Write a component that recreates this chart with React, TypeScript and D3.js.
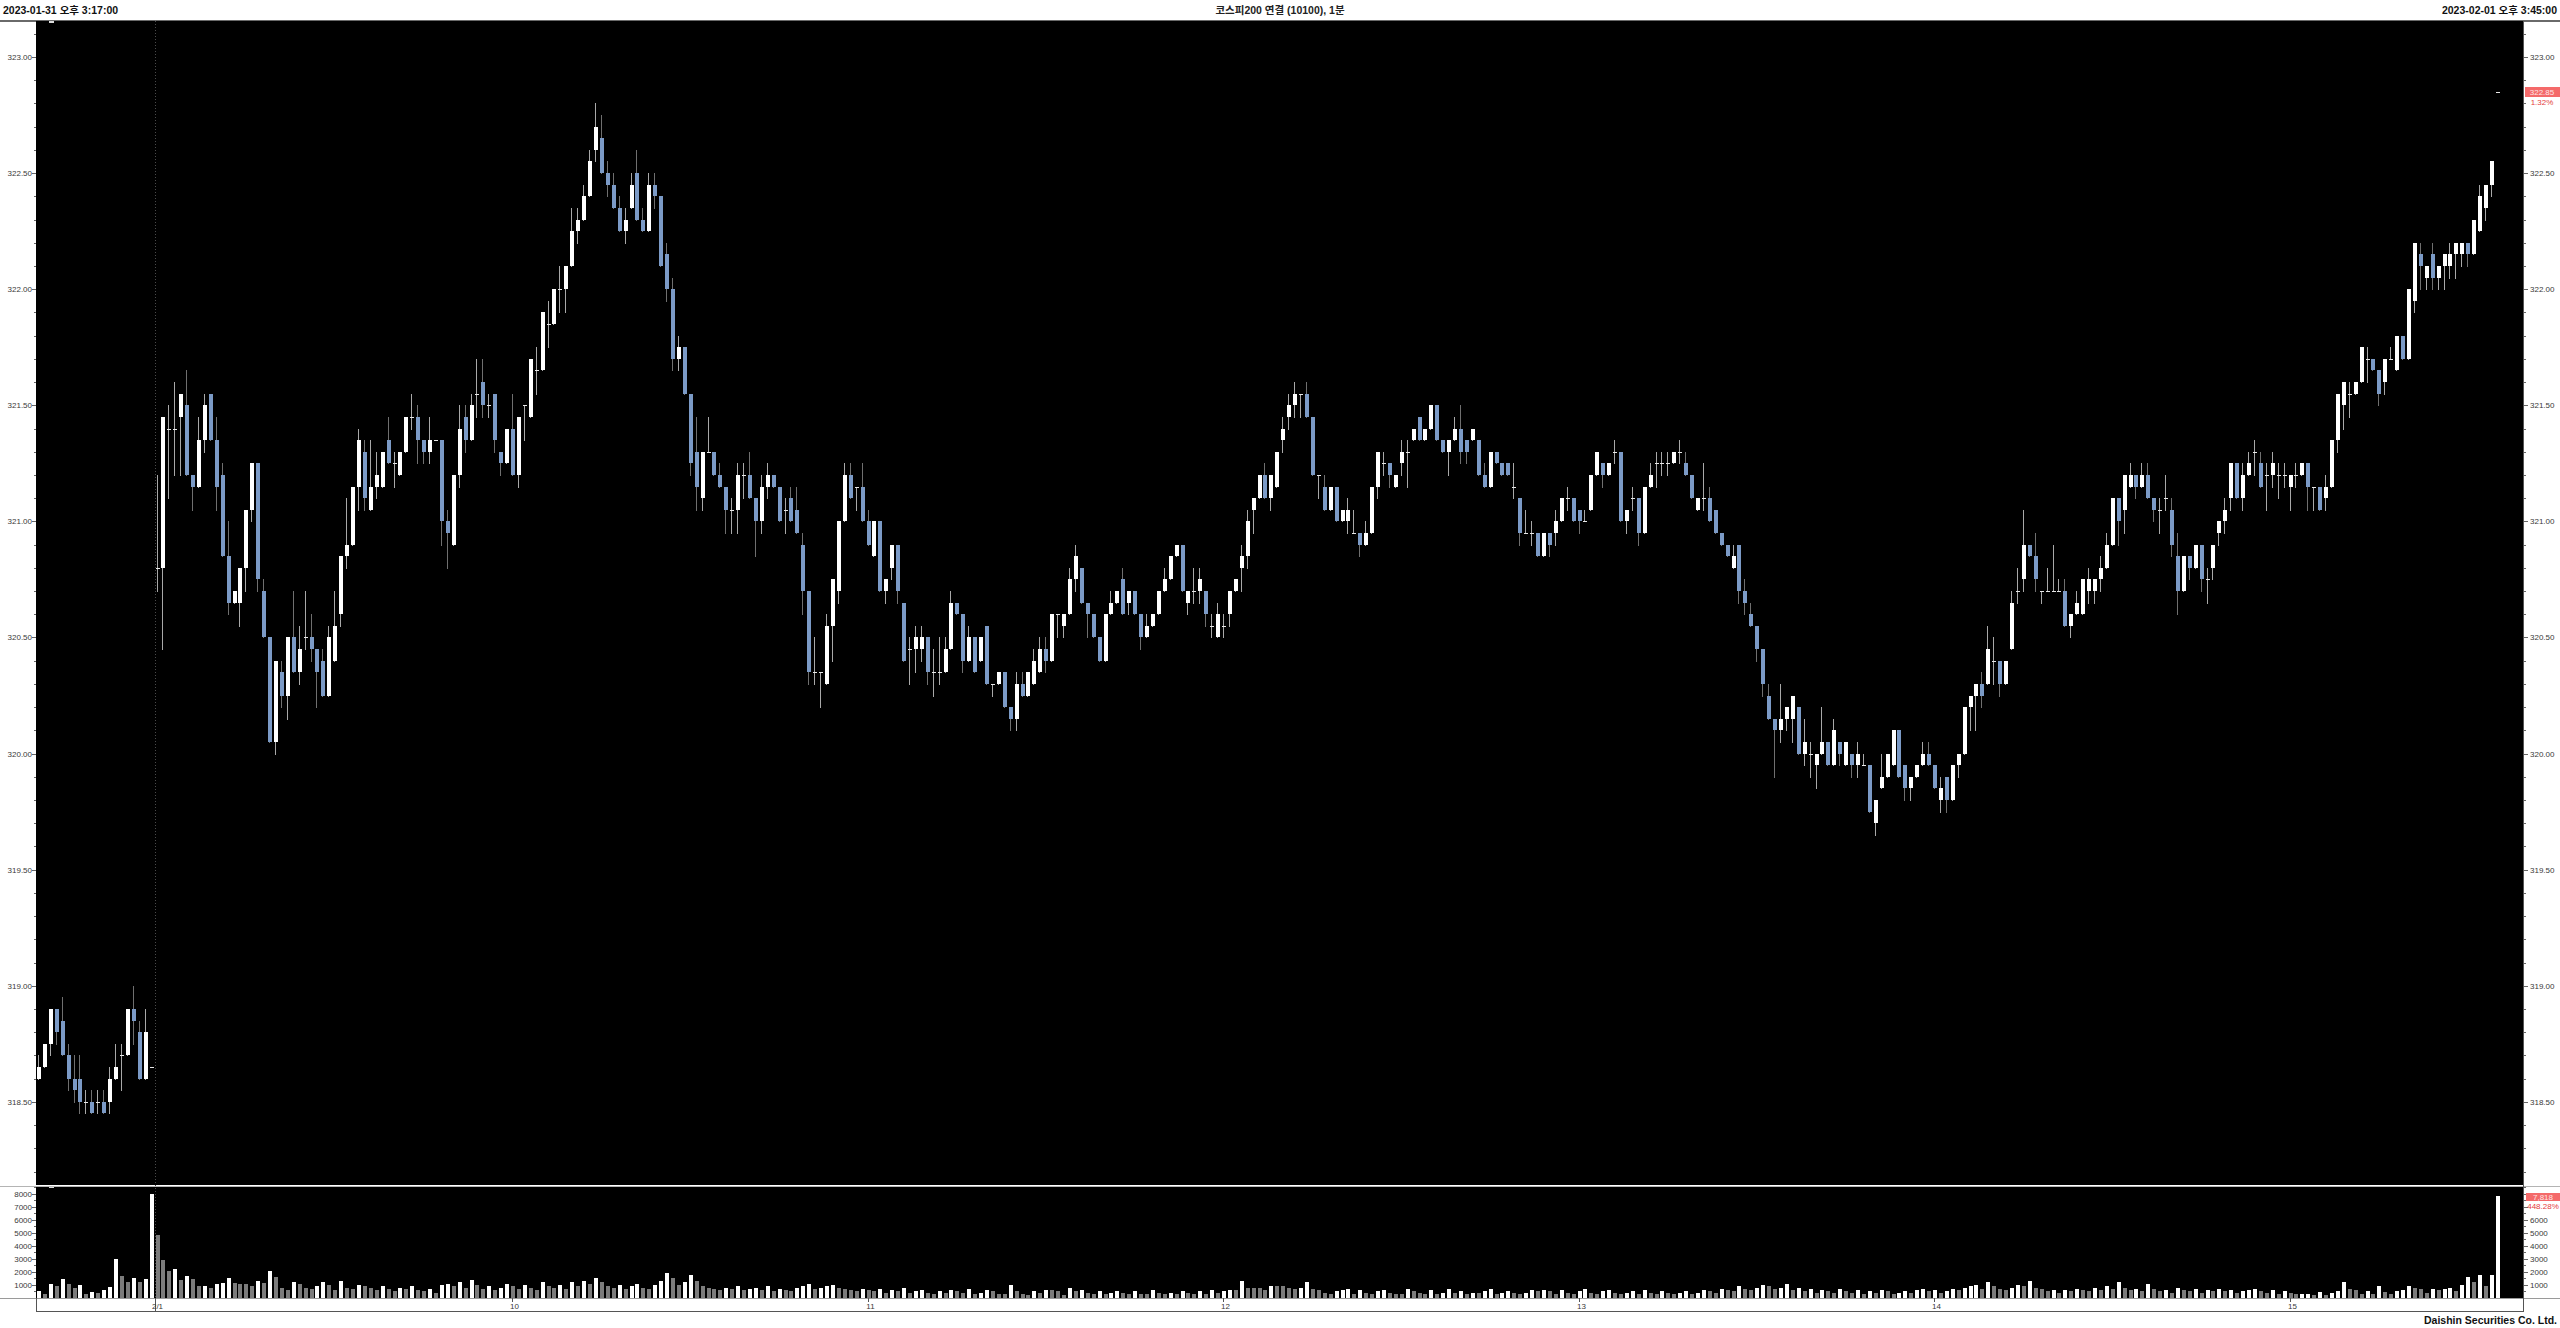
import React from 'react';
import * as d3 from 'd3';

const headerLeft = '2023-01-31 오후 3:17:00';
const headerTitle = '코스피200 연결 (10100), 1분';
const headerRight = '2023-02-01 오후 3:45:00';
const footerText = 'Daishin Securities Co. Ltd.';

const timeLabels = ['2/1', '10', '11', '12', '13', '14', '15'];
const timeLabelBars = [20, 80, 140, 200, 260, 320, 380];

const priceTicks = [318.5, 319, 319.5, 320, 320.5, 321, 321.5, 322, 322.5, 323];
const volumeTicks = [1000, 2000, 3000, 4000, 5000, 6000, 7000, 8000];
const rightVolumeTicks = [1000, 2000, 3000, 4000, 5000, 6000];

const lastPriceLabel = '322.85';
const lastPriceChange = '1.32%';
const lastVolumeLabel = '7,818';
const lastVolumeChange = '448.28%';

// [open, high, low, close]
const bars0131 = [
  [318.60, 318.70, 318.60, 318.65], [318.65, 318.75, 318.65, 318.75], [318.75, 318.90, 318.70, 318.90],
  [318.90, 318.90, 318.75, 318.80], [318.85, 318.95, 318.70, 318.70], [318.70, 318.75, 318.55, 318.60],
  [318.60, 318.70, 318.50, 318.55], [318.60, 318.70, 318.45, 318.50], [318.50, 318.55, 318.45, 318.50],
  [318.50, 318.55, 318.45, 318.45], [318.50, 318.55, 318.45, 318.50], [318.50, 318.55, 318.45, 318.45],
  [318.50, 318.65, 318.45, 318.60], [318.60, 318.75, 318.60, 318.65], [318.70, 318.75, 318.55, 318.70],
  [318.70, 318.90, 318.70, 318.90], [318.90, 319.00, 318.75, 318.85], [318.80, 318.85, 318.60, 318.60],
  [318.60, 318.90, 318.60, 318.80], [318.65, 318.65, 318.65, 318.65],
];
const bars09 = [
  [320.80, 321.20, 320.70, 320.80], [320.80, 321.45, 320.45, 321.45], [321.40, 321.50, 321.10, 321.40],
  [321.40, 321.60, 321.20, 321.40], [321.45, 321.55, 321.20, 321.55], [321.50, 321.65, 321.20, 321.20],
  [321.20, 321.20, 321.05, 321.15], [321.15, 321.45, 321.15, 321.35], [321.35, 321.55, 321.30, 321.50],
  [321.55, 321.55, 321.35, 321.35], [321.35, 321.45, 321.05, 321.15], [321.20, 321.25, 320.85, 320.85],
  [320.85, 321.00, 320.60, 320.65], [320.65, 320.70, 320.65, 320.70], [320.65, 320.80, 320.55, 320.80],
  [320.80, 321.05, 320.70, 321.05], [321.05, 321.25, 321.00, 321.25], [321.25, 321.25, 320.70, 320.75],
  [320.70, 320.75, 320.50, 320.50], [320.50, 320.50, 320.05, 320.05], [320.05, 320.40, 320.00, 320.40],
  [320.35, 320.40, 320.20, 320.25], [320.25, 320.50, 320.15, 320.50], [320.50, 320.70, 320.35, 320.35],
  [320.35, 320.55, 320.30, 320.45], [320.50, 320.70, 320.45, 320.50], [320.50, 320.60, 320.40, 320.45],
  [320.45, 320.45, 320.20, 320.35], [320.40, 320.45, 320.25, 320.25], [320.25, 320.55, 320.25, 320.50],
  [320.40, 320.70, 320.40, 320.55], [320.60, 320.85, 320.55, 320.85], [320.85, 321.10, 320.80, 320.90],
  [320.90, 321.15, 320.90, 321.15], [321.15, 321.40, 321.05, 321.35], [321.30, 321.35, 321.05, 321.10],
  [321.05, 321.35, 321.05, 321.15], [321.15, 321.30, 321.10, 321.20], [321.15, 321.30, 321.15, 321.30],
  [321.35, 321.45, 321.25, 321.25], [321.25, 321.30, 321.15, 321.25], [321.20, 321.30, 321.20, 321.30],
  [321.30, 321.45, 321.30, 321.45], [321.45, 321.55, 321.40, 321.45], [321.45, 321.50, 321.25, 321.35],
  [321.35, 321.35, 321.25, 321.30], [321.30, 321.45, 321.25, 321.35], [321.35, 321.35, 321.35, 321.35],
  [321.35, 321.35, 320.90, 321.00], [321.00, 321.05, 320.80, 320.95], [320.90, 321.20, 320.90, 321.20],
  [321.20, 321.50, 321.15, 321.40], [321.45, 321.50, 321.30, 321.35], [321.35, 321.55, 321.35, 321.50],
  [321.55, 321.70, 321.45, 321.55], [321.60, 321.70, 321.45, 321.50], [321.50, 321.55, 321.45, 321.50],
  [321.55, 321.55, 321.30, 321.35], [321.30, 321.30, 321.20, 321.25], [321.25, 321.40, 321.25, 321.40],
];
const bars10 = [
  [321.40, 321.55, 321.20, 321.20], [321.20, 321.45, 321.15, 321.45], [321.50, 321.50, 321.35, 321.50],
  [321.45, 321.70, 321.45, 321.70], [321.65, 321.75, 321.55, 321.65], [321.65, 321.90, 321.65, 321.90],
  [321.85, 321.95, 321.75, 321.85], [321.85, 322.00, 321.85, 322.00], [322.00, 322.10, 321.90, 322.00],
  [322.00, 322.10, 321.90, 322.10], [322.10, 322.35, 322.10, 322.25], [322.25, 322.35, 322.20, 322.30],
  [322.30, 322.45, 322.30, 322.40], [322.40, 322.60, 322.40, 322.55], [322.60, 322.80, 322.55, 322.70],
  [322.65, 322.75, 322.50, 322.50], [322.50, 322.55, 322.40, 322.45], [322.45, 322.50, 322.35, 322.35],
  [322.35, 322.40, 322.25, 322.25], [322.25, 322.35, 322.20, 322.30], [322.35, 322.50, 322.35, 322.45],
  [322.50, 322.60, 322.30, 322.30], [322.30, 322.35, 322.25, 322.25], [322.25, 322.50, 322.25, 322.45],
  [322.45, 322.50, 322.35, 322.40], [322.40, 322.40, 322.10, 322.10], [322.15, 322.20, 321.95, 322.00],
  [322.00, 322.05, 321.65, 321.70], [321.70, 321.80, 321.65, 321.75], [321.75, 321.75, 321.55, 321.55],
  [321.55, 321.55, 321.20, 321.25], [321.30, 321.45, 321.05, 321.15], [321.10, 321.30, 321.05, 321.30],
  [321.30, 321.45, 321.30, 321.30], [321.30, 321.30, 321.20, 321.20], [321.20, 321.25, 321.15, 321.15],
  [321.15, 321.15, 320.95, 321.05], [321.05, 321.10, 320.95, 321.05], [321.05, 321.25, 320.95, 321.20],
  [321.20, 321.25, 321.10, 321.20], [321.20, 321.30, 321.10, 321.10], [321.10, 321.10, 320.85, 321.00],
  [321.00, 321.20, 320.95, 321.15], [321.15, 321.25, 321.10, 321.20], [321.20, 321.20, 321.15, 321.15],
  [321.15, 321.15, 321.00, 321.00], [321.05, 321.10, 320.95, 321.05], [321.10, 321.15, 321.00, 321.00],
  [321.05, 321.15, 320.95, 320.95], [320.90, 320.95, 320.60, 320.70], [320.70, 320.70, 320.30, 320.35],
  [320.35, 320.50, 320.30, 320.35], [320.35, 320.35, 320.20, 320.35], [320.30, 320.60, 320.30, 320.55],
  [320.55, 320.75, 320.40, 320.75], [320.70, 321.00, 320.65, 321.00], [321.00, 321.25, 321.00, 321.20],
  [321.20, 321.25, 321.10, 321.10], [321.15, 321.15, 321.05, 321.15], [321.15, 321.25, 321.00, 321.00],
];
const bars11 = [
  [321.00, 321.05, 320.90, 320.90], [320.85, 321.00, 320.85, 321.00], [321.00, 321.00, 320.70, 320.70],
  [320.70, 320.75, 320.65, 320.75], [320.80, 320.90, 320.75, 320.90], [320.90, 320.90, 320.65, 320.70],
  [320.65, 320.65, 320.40, 320.40], [320.45, 320.50, 320.30, 320.45], [320.45, 320.55, 320.35, 320.50],
  [320.45, 320.55, 320.40, 320.50], [320.50, 320.50, 320.30, 320.35], [320.35, 320.45, 320.25, 320.35],
  [320.35, 320.50, 320.30, 320.35], [320.35, 320.50, 320.35, 320.45], [320.45, 320.70, 320.45, 320.65],
  [320.65, 320.65, 320.60, 320.60], [320.60, 320.60, 320.35, 320.40], [320.40, 320.55, 320.40, 320.50],
  [320.50, 320.50, 320.35, 320.35], [320.40, 320.50, 320.40, 320.50], [320.55, 320.55, 320.30, 320.30],
  [320.30, 320.30, 320.25, 320.30], [320.30, 320.35, 320.30, 320.35], [320.35, 320.35, 320.20, 320.20],
  [320.20, 320.20, 320.10, 320.15], [320.15, 320.35, 320.10, 320.30], [320.30, 320.35, 320.25, 320.25],
  [320.25, 320.35, 320.25, 320.35], [320.30, 320.45, 320.30, 320.40], [320.35, 320.50, 320.35, 320.45],
  [320.45, 320.50, 320.35, 320.40], [320.40, 320.60, 320.40, 320.60], [320.60, 320.60, 320.50, 320.60],
  [320.55, 320.60, 320.50, 320.60], [320.60, 320.80, 320.60, 320.75], [320.75, 320.90, 320.70, 320.85],
  [320.80, 320.80, 320.65, 320.65], [320.65, 320.65, 320.50, 320.60], [320.60, 320.60, 320.50, 320.50],
  [320.50, 320.50, 320.40, 320.40], [320.40, 320.60, 320.40, 320.60], [320.60, 320.70, 320.60, 320.65],
  [320.65, 320.70, 320.65, 320.70], [320.75, 320.80, 320.60, 320.60], [320.65, 320.70, 320.60, 320.70],
  [320.70, 320.70, 320.60, 320.60], [320.60, 320.60, 320.45, 320.50], [320.50, 320.60, 320.50, 320.55],
  [320.55, 320.60, 320.55, 320.60], [320.60, 320.70, 320.60, 320.70], [320.70, 320.80, 320.70, 320.75],
  [320.75, 320.85, 320.75, 320.85], [320.85, 320.90, 320.85, 320.90], [320.90, 320.90, 320.70, 320.70],
  [320.65, 320.70, 320.60, 320.70], [320.70, 320.80, 320.65, 320.70], [320.70, 320.80, 320.65, 320.75],
  [320.70, 320.70, 320.55, 320.60], [320.55, 320.60, 320.50, 320.55], [320.50, 320.65, 320.50, 320.60],
];
const bars12 = [
  [320.55, 320.60, 320.50, 320.55], [320.60, 320.70, 320.55, 320.70], [320.70, 320.75, 320.70, 320.75],
  [320.80, 320.90, 320.70, 320.85], [320.85, 321.05, 320.80, 321.00], [321.05, 321.10, 320.95, 321.10],
  [321.10, 321.20, 321.10, 321.20], [321.20, 321.25, 321.10, 321.10], [321.10, 321.20, 321.05, 321.20],
  [321.15, 321.30, 321.15, 321.30], [321.35, 321.45, 321.30, 321.40], [321.45, 321.55, 321.40, 321.50],
  [321.50, 321.60, 321.45, 321.55], [321.55, 321.55, 321.45, 321.55], [321.55, 321.60, 321.45, 321.45],
  [321.45, 321.45, 321.20, 321.20], [321.20, 321.20, 321.10, 321.20], [321.15, 321.20, 321.05, 321.05],
  [321.05, 321.15, 321.05, 321.15], [321.15, 321.15, 321.00, 321.00], [321.00, 321.05, 321.00, 321.05],
  [321.00, 321.10, 320.95, 321.05], [320.95, 321.05, 320.95, 320.95], [320.95, 320.95, 320.85, 320.90],
  [320.90, 321.00, 320.90, 320.95], [320.95, 321.15, 320.95, 321.15], [321.15, 321.30, 321.10, 321.30],
  [321.25, 321.30, 321.20, 321.25], [321.25, 321.25, 321.15, 321.20], [321.15, 321.20, 321.15, 321.20],
  [321.25, 321.35, 321.20, 321.30], [321.30, 321.35, 321.15, 321.30], [321.35, 321.40, 321.35, 321.40],
  [321.45, 321.45, 321.35, 321.35], [321.35, 321.40, 321.35, 321.40], [321.40, 321.50, 321.40, 321.50],
  [321.50, 321.50, 321.35, 321.35], [321.35, 321.35, 321.30, 321.30], [321.30, 321.35, 321.20, 321.35],
  [321.35, 321.45, 321.35, 321.40], [321.40, 321.50, 321.25, 321.30], [321.35, 321.35, 321.25, 321.30],
  [321.35, 321.40, 321.35, 321.40], [321.35, 321.35, 321.20, 321.20], [321.20, 321.25, 321.15, 321.15],
  [321.15, 321.30, 321.15, 321.30], [321.30, 321.30, 321.25, 321.25], [321.25, 321.25, 321.20, 321.20],
  [321.25, 321.25, 321.20, 321.20], [321.15, 321.25, 321.10, 321.15], [321.10, 321.10, 320.90, 320.95],
  [320.95, 321.05, 320.95, 320.95], [320.95, 321.00, 320.90, 320.95], [320.95, 320.95, 320.85, 320.85],
  [320.85, 320.95, 320.85, 320.95], [320.95, 320.95, 320.85, 320.90], [320.95, 321.05, 320.90, 321.00],
  [321.00, 321.10, 321.00, 321.10], [321.10, 321.15, 321.05, 321.10], [321.10, 321.10, 321.00, 321.00],
];
const bars13 = [
  [321.05, 321.05, 320.95, 321.00], [321.00, 321.05, 321.00, 321.00], [321.05, 321.20, 321.05, 321.20],
  [321.20, 321.30, 321.20, 321.30], [321.25, 321.25, 321.15, 321.20], [321.20, 321.25, 321.20, 321.25],
  [321.30, 321.35, 321.25, 321.30], [321.30, 321.30, 321.00, 321.00], [321.00, 321.05, 320.95, 321.05],
  [321.10, 321.15, 321.05, 321.10], [321.10, 321.10, 320.90, 320.95], [320.95, 321.15, 320.95, 321.15],
  [321.15, 321.25, 321.15, 321.20], [321.25, 321.30, 321.15, 321.25], [321.25, 321.30, 321.20, 321.25],
  [321.25, 321.30, 321.20, 321.25], [321.25, 321.30, 321.25, 321.30], [321.30, 321.35, 321.25, 321.30],
  [321.25, 321.30, 321.20, 321.20], [321.20, 321.20, 321.10, 321.10], [321.05, 321.10, 321.05, 321.10],
  [321.10, 321.25, 321.05, 321.10], [321.10, 321.15, 321.00, 321.00], [321.05, 321.05, 320.95, 320.95],
  [320.95, 320.95, 320.90, 320.90], [320.90, 320.90, 320.85, 320.85], [320.80, 320.90, 320.80, 320.85],
  [320.90, 320.90, 320.65, 320.70], [320.70, 320.75, 320.60, 320.65], [320.60, 320.65, 320.55, 320.55],
  [320.55, 320.55, 320.40, 320.45], [320.45, 320.45, 320.25, 320.30], [320.25, 320.30, 320.15, 320.15],
  [320.15, 320.15, 319.90, 320.10], [320.10, 320.30, 320.05, 320.15], [320.15, 320.20, 320.10, 320.20],
  [320.15, 320.25, 320.05, 320.25], [320.20, 320.20, 320.00, 320.00], [320.00, 320.15, 319.95, 320.05],
  [320.00, 320.05, 319.90, 320.00], [319.95, 320.00, 319.85, 320.00], [320.00, 320.20, 320.00, 320.05],
  [320.05, 320.05, 319.95, 319.95], [319.95, 320.15, 319.95, 320.10], [320.05, 320.05, 319.95, 320.00],
  [319.95, 320.05, 319.95, 320.05], [320.00, 320.00, 319.90, 319.95], [319.95, 320.05, 319.90, 320.00],
  [319.95, 320.00, 319.95, 319.95], [319.95, 319.95, 319.75, 319.75], [319.70, 319.80, 319.65, 319.80],
  [319.85, 320.00, 319.85, 319.90], [319.90, 320.00, 319.90, 320.00], [319.95, 320.10, 319.95, 320.10],
  [320.10, 320.10, 319.90, 319.90], [319.95, 319.95, 319.80, 319.85], [319.85, 319.90, 319.80, 319.90],
  [319.90, 319.95, 319.90, 319.95], [319.95, 320.05, 319.95, 320.00], [320.00, 320.05, 319.95, 319.95],
];
const bars14 = [
  [319.95, 319.95, 319.85, 319.85], [319.80, 319.90, 319.75, 319.85], [319.90, 319.90, 319.75, 319.80],
  [319.80, 319.95, 319.80, 319.95], [319.95, 320.00, 319.90, 320.00], [320.00, 320.20, 320.00, 320.20],
  [320.20, 320.25, 320.10, 320.25], [320.25, 320.30, 320.10, 320.30], [320.30, 320.35, 320.20, 320.25],
  [320.30, 320.55, 320.30, 320.45], [320.40, 320.50, 320.30, 320.40], [320.40, 320.40, 320.25, 320.30],
  [320.30, 320.40, 320.30, 320.40], [320.45, 320.70, 320.45, 320.65], [320.70, 320.80, 320.65, 320.70],
  [320.75, 321.05, 320.70, 320.90], [320.90, 320.90, 320.85, 320.85], [320.85, 320.95, 320.70, 320.75],
  [320.70, 320.70, 320.65, 320.70], [320.70, 320.80, 320.70, 320.70], [320.70, 320.90, 320.70, 320.70],
  [320.70, 320.75, 320.70, 320.70], [320.70, 320.75, 320.55, 320.55], [320.55, 320.60, 320.50, 320.60],
  [320.60, 320.70, 320.60, 320.65], [320.60, 320.75, 320.60, 320.75], [320.70, 320.80, 320.65, 320.75],
  [320.70, 320.75, 320.65, 320.75], [320.75, 320.85, 320.70, 320.80], [320.80, 320.95, 320.80, 320.90],
  [320.90, 321.10, 320.90, 321.10], [321.10, 321.10, 320.90, 321.00], [321.05, 321.20, 320.95, 321.20],
  [321.15, 321.25, 321.15, 321.20], [321.20, 321.20, 321.10, 321.15], [321.15, 321.25, 321.15, 321.20],
  [321.20, 321.25, 321.10, 321.10], [321.10, 321.10, 321.00, 321.05], [321.05, 321.10, 320.95, 321.05],
  [321.10, 321.20, 321.05, 321.10], [321.05, 321.10, 320.85, 320.90], [320.85, 320.95, 320.60, 320.70],
  [320.70, 320.85, 320.70, 320.85], [320.85, 320.85, 320.75, 320.80], [320.80, 320.90, 320.80, 320.90],
  [320.90, 320.90, 320.70, 320.75], [320.75, 320.80, 320.65, 320.75], [320.80, 320.90, 320.75, 320.90],
  [320.95, 321.00, 320.90, 321.00], [321.00, 321.10, 320.95, 321.05], [321.10, 321.25, 321.05, 321.25],
  [321.25, 321.25, 321.10, 321.10], [321.10, 321.25, 321.05, 321.20], [321.20, 321.30, 321.20, 321.25],
  [321.30, 321.35, 321.20, 321.30], [321.25, 321.30, 321.15, 321.15], [321.20, 321.25, 321.05, 321.20],
  [321.20, 321.30, 321.15, 321.25], [321.20, 321.25, 321.10, 321.20], [321.20, 321.25, 321.15, 321.20],
];
const bars15 = [
  [321.15, 321.20, 321.05, 321.20], [321.20, 321.25, 321.15, 321.20], [321.20, 321.25, 321.20, 321.25],
  [321.25, 321.25, 321.05, 321.15], [321.15, 321.15, 321.05, 321.15], [321.15, 321.15, 321.05, 321.05],
  [321.10, 321.20, 321.05, 321.15], [321.15, 321.35, 321.15, 321.35], [321.35, 321.55, 321.30, 321.55],
  [321.50, 321.60, 321.40, 321.60], [321.55, 321.60, 321.45, 321.55], [321.55, 321.60, 321.55, 321.60],
  [321.60, 321.75, 321.60, 321.75], [321.70, 321.75, 321.60, 321.70], [321.70, 321.70, 321.65, 321.65],
  [321.65, 321.65, 321.50, 321.55], [321.60, 321.70, 321.55, 321.70], [321.70, 321.75, 321.70, 321.70],
  [321.65, 321.80, 321.65, 321.80], [321.80, 321.80, 321.70, 321.70], [321.70, 322.00, 321.70, 322.00],
  [321.95, 322.20, 321.90, 322.20], [322.15, 322.20, 322.00, 322.10], [322.05, 322.10, 322.00, 322.10],
  [322.15, 322.20, 322.00, 322.05], [322.05, 322.10, 322.00, 322.10], [322.10, 322.15, 322.00, 322.15],
  [322.10, 322.20, 322.05, 322.15], [322.15, 322.20, 322.05, 322.20], [322.15, 322.20, 322.10, 322.20],
  [322.20, 322.20, 322.10, 322.15], [322.15, 322.30, 322.15, 322.30], [322.25, 322.45, 322.25, 322.40],
  [322.35, 322.45, 322.30, 322.45], [322.45, 322.55, 322.40, 322.55], [322.85, 322.85, 322.85, 322.85],
];

const vol0131 = [540, 280, 1100, 900, 1460, 1050, 750, 1000, 300, 450, 400, 580, 820, 3000, 1720, 1200, 1570, 1250, 1480, 8000];
const vol09 = [4800, 2950, 2070, 2230, 1370, 1720, 1450, 900, 950, 750, 1050, 1150, 1570, 1170, 1100, 1050, 900, 1270, 1170, 2080,
  1580, 800, 600, 1200, 1100, 800, 700, 900, 1200, 1000, 600, 1300, 800, 700, 1000, 900, 800, 600, 900, 700,
  500, 800, 700, 900, 600, 500, 700, 400, 1000, 1100, 900, 1200, 800, 1400, 1000, 700, 900, 600, 800, 1100];
const vol10 = [900, 700, 1000, 800, 600, 1200, 900, 800, 1000, 700, 1200, 900, 1300, 1100, 1500, 1200, 900, 800, 1000, 700,
  900, 1100, 800, 700, 1000, 1300, 1900, 1500, 1000, 1200, 1800, 1300, 900, 800, 700, 600, 800, 700, 900, 600,
  700, 800, 600, 900, 500, 700, 600, 500, 800, 900, 1100, 700, 800, 900, 1000, 800, 700, 600, 500, 700];
const vol11 = [600, 500, 700, 400, 600, 500, 800, 400, 500, 600, 400, 300, 500, 400, 600, 500, 400, 700, 300, 400,
  600, 500, 300, 300, 1000, 500, 300, 200, 500, 400, 600, 600, 500, 200, 800, 500, 600, 400, 300, 500,
  300, 400, 500, 400, 300, 500, 300, 300, 600, 400, 300, 400, 300, 500, 400, 300, 500, 300, 600, 400];
const vol12 = [500, 600, 600, 1300, 800, 800, 800, 600, 900, 900, 900, 800, 700, 800, 1200, 700, 600, 400, 300, 500,
  600, 700, 300, 600, 400, 300, 500, 600, 400, 300, 300, 700, 500, 400, 300, 600, 300, 400, 700, 400,
  500, 300, 400, 400, 500, 700, 300, 400, 500, 400, 300, 400, 600, 500, 600, 500, 300, 600, 400, 300];
const vol13 = [500, 700, 400, 300, 500, 600, 400, 300, 400, 500, 300, 600, 400, 300, 500, 400, 300, 400, 500, 300,
  400, 600, 500, 400, 700, 600, 500, 900, 700, 600, 800, 1000, 900, 700, 800, 1100, 600, 800, 500, 700,
  400, 600, 500, 400, 700, 500, 400, 600, 300, 500, 400, 600, 500, 300, 400, 500, 400, 600, 700, 500];
const vol14 = [600, 400, 500, 700, 600, 800, 900, 1000, 700, 1200, 900, 700, 600, 800, 1000, 900, 1300, 800, 700, 500,
  600, 400, 600, 500, 700, 600, 500, 800, 600, 900, 700, 1200, 800, 600, 700, 500, 1100, 700, 500, 600,
  400, 800, 600, 500, 700, 400, 600, 500, 700, 500, 600, 400, 500, 600, 700, 500, 400, 600, 300, 500];
const vol15 = [400, 300, 320, 330, 250, 450, 250, 370, 550, 1200, 700, 600, 340, 550, 330, 900, 480, 300, 550, 580,
  900, 780, 700, 370, 700, 600, 680, 750, 570, 1000, 1580, 1250, 1800, 950, 1750, 7818];

const W = 2560;
const H = 1328;
const PLOT_L = 36;
const PLOT_R = 2523;
const PRICE_T = 21;
const PRICE_B = 1185;
const VOL_T = 1187;
const VOL_B = 1298;
const AXIS_B = 1311;
const PITCH = 5.925;
const FIRST_X = 39;

const UP = '#ffffff';
const DOWN = '#7b9ac6';
const FONT = '"Liberation Sans", Arial, "Noto Sans CJK KR", sans-serif';

export default function App() {
  const bars = [...bars0131, ...bars09, ...bars10, ...bars11, ...bars12, ...bars13, ...bars14, ...bars15];
  const vols = [...vol0131, ...vol09, ...vol10, ...vol11, ...vol12, ...vol13, ...vol14, ...vol15];
  const n = bars.length;

  const x = d3.scaleLinear().domain([0, n - 1]).range([FIRST_X, FIRST_X + (n - 1) * PITCH]);
  const y = d3.scaleLinear().domain([318.142, 323.155]).range([PRICE_B, PRICE_T]);
  const yv = d3.scaleLinear().domain([0, 8000]).range([VOL_B, 1193.7]);

  const minorPrice = d3.range(3182, 3232).map((v) => v / 10);
  const minorVol = d3.range(500, 8600, 500);
  const sessionX = Math.round((x(bars0131.length - 1) + x(bars0131.length)) / 2) + 0.5;

  const candles = bars.map(([o, h, l, c], i) => {
    const left = Math.round(x(i) - 2);
    const wx = left + 1.5;
    const up = c > o;
    const flat = c === o;
    const top = Math.round(y(Math.max(o, c)));
    const bot = Math.round(y(Math.min(o, c)));
    return (
      <g key={i}>
        <line x1={wx} x2={wx} y1={Math.round(y(h))} y2={Math.round(y(l)) + 1} stroke={up || flat ? '#a8a8a8' : '#6f6f6f'} strokeWidth={1} />
        {flat ? (
          <rect x={left} y={top} width={4} height={1} fill="#e8e8e8" />
        ) : (
          <rect x={left} y={top} width={4} height={Math.max(1, bot - top)} fill={up ? UP : DOWN} />
        )}
      </g>
    );
  });

  const volumeBars = vols.map((v, i) => {
    const left = Math.round(x(i) - 2);
    const top = Math.round(yv(v));
    const rising = i === 0 ? true : v > vols[i - 1];
    return <rect key={i} x={left} y={top} width={4} height={VOL_B - top} fill={rising ? '#ffffff' : '#7c7c7c'} />;
  });

  const labelStyle = { fontFamily: FONT, fontSize: 8, fill: '#3a3a3a' } as const;

  return (
    <div style={{ position: 'absolute', left: 0, top: 0, width: W, height: H, background: '#fff' }}>
      <svg width={W} height={H} shapeRendering="crispEdges" style={{ display: 'block' }}>
        <rect x={0} y={0} width={W} height={H} fill="#ffffff" />
        {/* header */}
        <text x={3} y={14} fontFamily={FONT} fontSize={10.5} fontWeight="bold" fill="#111">{headerLeft}</text>
        <text x={1280} y={14} fontFamily={FONT} fontSize={10.5} fontWeight="bold" textAnchor="middle" fill="#222">{headerTitle}</text>
        <text x={2557} y={14} fontFamily={FONT} fontSize={10.5} fontWeight="bold" textAnchor="end" fill="#111">{headerRight}</text>
        <rect x={0} y={20} width={W} height={1.5} fill="#6a6a6a" />

        {/* panes */}
        <rect x={PLOT_L} y={PRICE_T} width={PLOT_R - PLOT_L} height={PRICE_B - PRICE_T} fill="#000" />
        <rect x={0} y={1185.5} width={W} height={1} fill="#b4b4b4" />
        <rect x={PLOT_L} y={VOL_T} width={PLOT_R - PLOT_L} height={VOL_B - VOL_T} fill="#000" />
        <rect x={0} y={VOL_B} width={W} height={1} fill="#9a9a9a" />
        <rect x={PLOT_L} y={VOL_B} width={1} height={AXIS_B - VOL_B} fill="#555" />
        <rect x={PLOT_R} y={PRICE_T} width={1} height={AXIS_B - PRICE_T + 1} fill="#555" />
        <rect x={PLOT_L} y={AXIS_B} width={PLOT_R - PLOT_L + 1} height={1} fill="#555" />

        {/* session break */}
        <line x1={sessionX} x2={sessionX} y1={PRICE_T} y2={VOL_B} stroke="#4a4a4a" strokeDasharray="1,2" />
        <line x1={sessionX} x2={sessionX} y1={VOL_B} y2={AXIS_B} stroke="#555" />

        {/* small markers */}
        <rect x={49} y={21} width={5} height={2} fill="#dcdcdc" />
        <rect x={49} y={1187} width={5} height={1} fill="#dcdcdc" />

        {/* price axes */}
        {minorPrice.map((p) => {
          const yy = Math.round(y(p)) + 0.5;
          const major = Math.abs(p * 2 - Math.round(p * 2)) < 1e-6;
          return (
            <g key={p}>
              <line x1={PLOT_L - (major ? 4 : 2)} x2={PLOT_L} y1={yy} y2={yy} stroke="#666" />
              <line x1={PLOT_R + 1} x2={PLOT_R + 1 + (major ? 4 : 2)} y1={yy} y2={yy} stroke="#666" />
            </g>
          );
        })}
        {priceTicks.map((p) => (
          <g key={p}>
            <text x={PLOT_L - 4} y={y(p) + 3} textAnchor="end" {...labelStyle}>{p.toFixed(2)}</text>
            <text x={PLOT_R + 7} y={y(p) + 3} {...labelStyle}>{p.toFixed(2)}</text>
          </g>
        ))}

        {/* volume axes */}
        {minorVol.map((v) => {
          const yy = Math.round(yv(v)) + 0.5;
          const major = v % 1000 === 0;
          return (
            <g key={v}>
              <line x1={PLOT_L - (major ? 4 : 2)} x2={PLOT_L} y1={yy} y2={yy} stroke="#666" />
              <line x1={PLOT_R + 1} x2={PLOT_R + 1 + (major ? 4 : 2)} y1={yy} y2={yy} stroke="#666" />
            </g>
          );
        })}
        {volumeTicks.map((v) => (
          <text key={v} x={PLOT_L - 4} y={yv(v) + 3} textAnchor="end" {...labelStyle}>{v}</text>
        ))}
        {rightVolumeTicks.map((v) => (
          <text key={v} x={PLOT_R + 7} y={yv(v) + 3} {...labelStyle}>{v}</text>
        ))}

        {/* x axis */}
        {timeLabels.map((t, k) => {
          const xx = k === 0 ? sessionX : Math.round(x(timeLabelBars[k]) - 1) + 0.5;
          return (
            <g key={t}>
              <line x1={xx} x2={xx} y1={VOL_B} y2={VOL_B + 4} stroke="#555" />
              <text x={xx + 2} y={1309} textAnchor="middle" {...labelStyle}>{t}</text>
            </g>
          );
        })}

        {/* data */}
        <g>{volumeBars}</g>
        <g>{candles}</g>

        {/* last value labels */}
        <rect x={2525} y={87} width={35} height={10} fill="#f46a6a" />
        <text x={2542} y={95} textAnchor="middle" fontFamily={FONT} fontSize={8} fill="#ffe6e6">{lastPriceLabel}</text>
        <text x={2542} y={104.5} textAnchor="middle" fontFamily={FONT} fontSize={8} fill="#e43c3c">{lastPriceChange}</text>
        <rect x={2526} y={1193} width={34} height={8} fill="#f46a6a" />
        <text x={2543} y={1200} textAnchor="middle" fontFamily={FONT} fontSize={8} fill="#ffe6e6">{lastVolumeLabel}</text>
        <text x={2543} y={1209} textAnchor="middle" fontFamily={FONT} fontSize={8} fill="#e43c3c">{lastVolumeChange}</text>

        {/* footer */}
        <text x={2557} y={1324} textAnchor="end" fontFamily={FONT} fontSize={10.5} fontWeight="bold" fill="#111">{footerText}</text>
      </svg>
    </div>
  );
}
